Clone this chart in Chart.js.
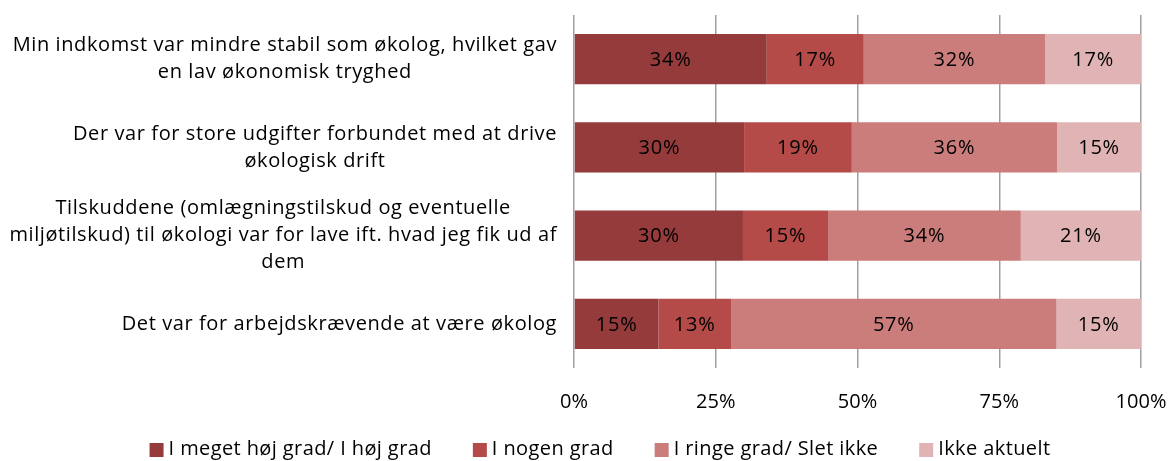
<!DOCTYPE html>
<html>
<head>
<meta charset="utf-8">
<script src="https://cdn.jsdelivr.net/npm/chart.js@4/dist/chart.umd.min.js"></script>
<style>
  html, body { margin: 0; padding: 0; background: #fff; }
  #wrap { width: 1171px; height: 461px; }
</style>
</head>
<body>
<div id="wrap"><canvas id="barer"></canvas></div>
<script>
var categories = [
    ['Min indkomst var mindre stabil som økolog, hvilket gav', 'en lav økonomisk tryghed'],
    ['Der var for store udgifter forbundet med at drive', 'økologisk drift'],
    ['Tilskuddene (omlægningstilskud og eventuelle', 'miljøtilskud) til økologi var for lave ift. hvad jeg fik ud af', 'dem'],
    ['Det var for arbejdskrævende at være økolog']
];
var seriesNames = ['I meget høj grad/ I høj grad', 'I nogen grad', 'I ringe grad/ Slet ikke', 'Ikke aktuelt'];
var hoejGrad = [34.0, 30.0, 29.8, 14.9];
var nogenGrad = [17.1, 19.0, 15.0, 12.8];
var ringeGrad = [32.0, 36.2, 34.0, 57.4];
var ikkeAktuelt = [16.9, 14.8, 21.2, 14.9];
var xTicks = [0, 25, 50, 75, 100];

var colors = ['#953b3b', '#b54b48', '#cb7d7b', '#e0b4b4'];
var fontFam = '"Open Sans", sans-serif';

// labels inside the bars
var barLabels = {
    id: 'barLabels',
    afterDatasetsDraw: function(chart){
        var ctx = chart.ctx;
        ctx.save();
        ctx.font = '20px ' + fontFam;
        ctx.letterSpacing = '0.8px';
        ctx.fillStyle = '#000';
        ctx.textAlign = 'center';
        ctx.textBaseline = 'middle';
        chart.data.datasets.forEach(function(ds, i){
            var meta = chart.getDatasetMeta(i);
            meta.data.forEach(function(bar, j){
                var p = bar.getProps(['x', 'y', 'base'], true);
                ctx.fillText(Math.round(ds.data[j]) + '%', (p.x + p.base) / 2, p.y + 1);
            });
        });
        ctx.restore();
    }
};

// category labels: block right aligned, lines centered
var catLabels = {
    id: 'catLabels',
    afterDraw: function(chart){
        var ctx = chart.ctx;
        var yScale = chart.scales.y;
        var rightEdge = chart.chartArea.left - 17;
        var lineH = 27;
        ctx.save();
        ctx.font = '20px ' + fontFam;
        ctx.letterSpacing = '0.6px';
        ctx.fillStyle = '#000';
        ctx.textAlign = 'center';
        ctx.textBaseline = 'middle';
        categories.forEach(function(lines, i){
            var maxW = 0;
            lines.forEach(function(l){ maxW = Math.max(maxW, ctx.measureText(l).width); });
            var cx = rightEdge - maxW / 2;
            var cy = yScale.getPixelForValue(i);
            var y0 = cy - (lines.length - 1) * lineH / 2;
            lines.forEach(function(l, k){
                ctx.fillText(l, cx, y0 + k * lineH);
            });
        });
        ctx.restore();
    }
};

// legend at the bottom
var bottomLegend = {
    id: 'bottomLegend',
    afterDraw: function(chart){
        var ctx = chart.ctx;
        var box = 14, gap = 5, space = 41;
        ctx.save();
        ctx.font = '20px ' + fontFam;
        ctx.letterSpacing = '0.4px';
        ctx.textBaseline = 'middle';
        ctx.textAlign = 'left';
        var items = chart.data.datasets.map(function(ds){
            return { text: ds.label, color: ds.backgroundColor, w: ctx.measureText(ds.label).width };
        });
        var total = 0;
        items.forEach(function(it, i){ total += box + gap + it.w + (i ? space : 0); });
        var x = 600 - total / 2;
        var y = 449;
        items.forEach(function(it){
            ctx.fillStyle = it.color;
            ctx.fillRect(x, y - box / 2 + 1, box, box);
            ctx.fillStyle = '#000';
            ctx.fillText(it.text, x + box + gap, y);
            x += box + gap + it.w + space;
        });
        ctx.restore();
    }
};

var datasets = [hoejGrad, nogenGrad, ringeGrad, ikkeAktuelt].map(function(d, i){
    return {
        label: seriesNames[i],
        data: d,
        backgroundColor: colors[i],
        borderWidth: 0,
        barPercentage: 0.57,
        categoryPercentage: 1
    };
});

var context = document.getElementById('barer').getContext('2d');
var chart = new Chart(context, {
    type: 'bar',
    data: {
        labels: categories.map(function(c){ return c.join(' '); }),
        datasets: datasets
    },
    plugins: [barLabels, catLabels, bottomLegend],
    options: {
        indexAxis: 'y',
        responsive: true,
        maintainAspectRatio: false,
        animation: false,
        layout: { padding: { left: 0, right: 30, top: 15, bottom: 25 } },
        scales: {
            x: {
                stacked: true,
                min: 0,
                max: 100,
                afterBuildTicks: function(axis){
                    axis.ticks = xTicks.map(function(v){ return { value: v }; });
                },
                afterFit: function(scale){
                    scale.paddingLeft = 0;
                    scale.paddingRight = 0;
                },
                ticks: {
                    callback: function(v){ return v + '%'; },
                    color: '#000',
                    font: { family: fontFam, size: 20 },
                    padding: 22,
                    maxRotation: 0
                },
                grid: { color: '#9f9f9f', lineWidth: 1.5, tickLength: 0, drawTicks: false },
                border: { display: false }
            },
            y: {
                stacked: true,
                afterFit: function(scale){ scale.width = 574; },
                ticks: { display: false },
                grid: { display: false },
                border: { display: false }
            }
        },
        plugins: {
            legend: { display: false },
            tooltip: { enabled: false }
        }
    }
});
</script>
</body>
</html>
